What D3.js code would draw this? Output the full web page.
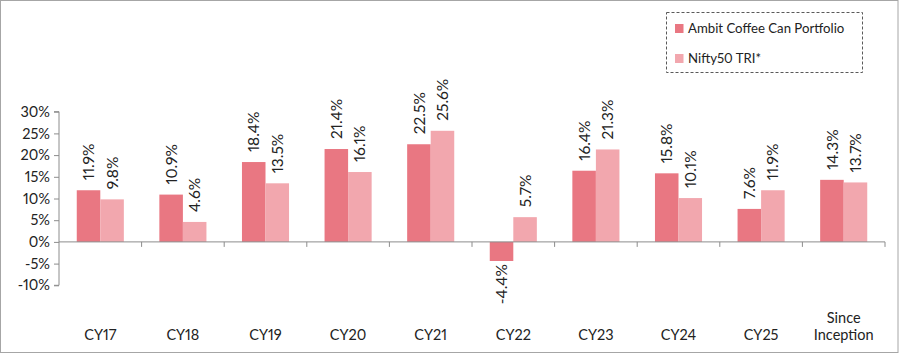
<!DOCTYPE html>
<html>
<head>
<meta charset="utf-8">
<script src="https://cdn.jsdelivr.net/npm/d3@7"></script>
<style>
  html, body { margin: 0; padding: 0; background: #fff; }
  svg { display: block; font-family: Lato, "Open Sans", sans-serif; font-variant-numeric: proportional-nums; }
</style>
</head>
<body>
<svg id="chart" width="900" height="355"></svg>
<script>
const categories = ["CY17", "CY18", "CY19", "CY20", "CY21", "CY22", "CY23", "CY24", "CY25", "Since Inception"];
const seriesNames = ["Ambit Coffee Can Portfolio", "Nifty50 TRI*"];
const ambit = [11.9, 10.9, 18.4, 21.4, 22.5, -4.4, 16.4, 15.8, 7.6, 14.3];
const nifty = [9.8, 4.6, 13.5, 16.1, 25.6, 5.7, 21.3, 10.1, 11.9, 13.7];
const yTicks = [-10, -5, 0, 5, 10, 15, 20, 25, 30];
const colors = ["#E97782", "#F2A7AE"];

const svg = d3.select("#chart");

// outer frame
svg.append("rect").attr("x", 0.5).attr("y", 0.5).attr("width", 897.5).attr("height", 352)
  .attr("fill", "none").attr("stroke", "#a6a6a6").attr("stroke-width", 1);

const left = 59, right = 885;
const x0 = d3.scaleBand().domain(categories).range([left, right]).paddingInner(0.43).paddingOuter(0.215);
const x1 = d3.scaleBand().domain([0, 1]).range([0, x0.bandwidth()]);
const y = d3.scaleLinear().domain([-10, 30]).range([285.3, 111.7]);

// y axis
const yAxis = svg.append("g").attr("transform", `translate(${left},0)`)
  .call(d3.axisLeft(y).tickValues(yTicks).tickFormat(d => d + "%").tickSize(5).tickPadding(4));
yAxis.selectAll("path, line").attr("stroke", "#8c8c8c");
yAxis.select(".domain").attr("d", `M-5,${y(30)}H0V${y(-10)}H-5`);
yAxis.selectAll("text").attr("font-size", 14.5).attr("fill", "#222")
  .attr("font-family", "Lato");

// bars
const data = categories.map((c, i) => ({ cat: c, vals: [ambit[i], nifty[i]] }));
const groups = svg.append("g").selectAll("g").data(data).join("g")
  .attr("transform", d => `translate(${x0(d.cat)},0)`);
groups.selectAll("rect").data(d => d.vals.map((v, k) => ({ v, k }))).join("rect")
  .attr("x", d => x1(d.k))
  .attr("width", x1.bandwidth())
  .attr("y", d => y(Math.max(0, d.v)))
  .attr("height", d => Math.abs(y(d.v) - y(0)))
  .attr("fill", d => colors[d.k]);

// x axis zero line with ticks at category boundaries
const step = x0.step();
const bounds = d3.range(0, categories.length + 1).map(i => left + i * step);
svg.append("line").attr("x1", left).attr("x2", right).attr("y1", y(0)).attr("y2", y(0))
  .attr("stroke", "#8c8c8c").attr("stroke-width", 1);
svg.append("g").selectAll("line").data(bounds.slice(1)).join("line")
  .attr("x1", d => d).attr("x2", d => d).attr("y1", y(0)).attr("y2", y(0) + 5)
  .attr("stroke", "#8c8c8c");

// data labels
groups.selectAll("text.lbl").data(d => d.vals.map((v, k) => ({ v, k }))).join("text")
  .attr("class", "lbl")
  .attr("font-size", 15.5)
  .attr("fill", "#222")
  .attr("text-anchor", d => d.v >= 0 ? "start" : "end")
  .attr("transform", d => {
    const cx = x1(d.k) + x1.bandwidth() / 2;
    const yy = d.v >= 0 ? y(d.v) - 10 : y(d.v) + 3;
    return `translate(${cx},${yy}) rotate(-90)`;
  })
  .attr("dy", "0.36em")
  .text(d => d.v.toFixed(1) + "%");

// category labels
const catG = svg.append("g");
categories.forEach(c => {
  const words = c === "Since Inception" ? ["Since", "Inception"] : [c];
  const t = catG.append("text").attr("x", x0(c) + x0.bandwidth() / 2)
    .attr("text-anchor", "middle").attr("font-size", 14.5).attr("fill", "#222");
  words.forEach((w, i) => {
    t.append("tspan").attr("x", x0(c) + x0.bandwidth() / 2)
      .attr("y", 340 - (words.length - 1 - i) * 17).text(w);
  });
});

// legend
const lg = svg.append("g");
lg.append("rect").attr("x", 666.5).attr("y", 12.5).attr("width", 196).attr("height", 60)
  .attr("fill", "none").attr("stroke", "#595959").attr("stroke-dasharray", "3,2");
seriesNames.forEach((n, i) => {
  lg.append("rect").attr("x", 675).attr("y", 24 + i * 30).attr("width", 8.5).attr("height", 9)
    .attr("fill", colors[i]);
  lg.append("text").attr("x", 688).attr("y", 33 + i * 29.5).attr("font-size", 13.2)
    .attr("fill", "#222").text(n);
});
</script>
</body>
</html>
